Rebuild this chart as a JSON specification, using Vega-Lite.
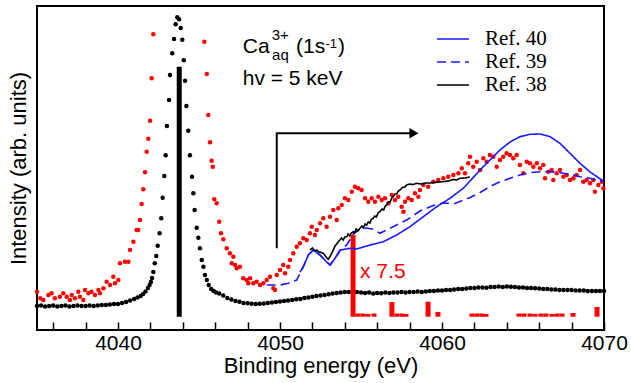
{
  "$schema": "https://vega.github.io/schema/vega-lite/v6.json",
  "width": 567,
  "height": 324,
  "autosize": "none",
  "padding": {"left": 37, "top": 6, "right": 27, "bottom": 53},
  "config": {
    "view": {"stroke": "black", "strokeWidth": 2},
    "font": "Liberation Sans",
    "axis": {"tickColor": "black", "tickOpacity": 1, "domainColor": "black", "titleColor": "black", "labelColor": "black"}
  },
  "datasets": {
    "bd": [
      {"e":4035,"i":24},{"e":4035.25,"i":24.5},{"e":4035.5,"i":23.5},{"e":4035.75,"i":24},{"e":4036,"i":24.5},{"e":4036.25,"i":23.5},{"e":4036.5,"i":24},{"e":4036.75,"i":24.5},{"e":4037,"i":23.5},{"e":4037.25,"i":24},{"e":4037.5,"i":24.5},{"e":4037.75,"i":24},{"e":4038,"i":24},{"e":4038.25,"i":24.5},{"e":4038.5,"i":24},{"e":4038.75,"i":24.5},{"e":4039,"i":25},{"e":4039.25,"i":25},{"e":4039.5,"i":25.5},{"e":4039.75,"i":26},{"e":4040,"i":26},{"e":4040.25,"i":27},{"e":4040.5,"i":28},{"e":4040.75,"i":29.5},{"e":4041,"i":31},{"e":4041.2,"i":32.5},{"e":4041.4,"i":34},{"e":4041.55,"i":36},{"e":4041.7,"i":38.5},{"e":4041.85,"i":42},{"e":4041.95,"i":45},{"e":4042.03,"i":48},{"e":4042.1,"i":52},{"e":4042.18,"i":58},{"e":4042.27,"i":66.7},{"e":4042.36,"i":74},{"e":4042.45,"i":84.3},{"e":4042.57,"i":96.7},{"e":4042.67,"i":111.7},{"e":4042.76,"i":132.3},{"e":4042.86,"i":154},{"e":4042.94,"i":174.7},{"e":4043.02,"i":204},{"e":4043.15,"i":230},{"e":4043.21,"i":255},{"e":4043.35,"i":276.7},{"e":4043.46,"i":291},{"e":4043.56,"i":305.7},{"e":4043.66,"i":312.7},{"e":4043.77,"i":310.7},{"e":4043.87,"i":302},{"e":4043.97,"i":290.3},{"e":4044.06,"i":269.7},{"e":4044.14,"i":249.3},{"e":4044.22,"i":224},{"e":4044.34,"i":199.3},{"e":4044.44,"i":174.7},{"e":4044.57,"i":153.3},{"e":4044.65,"i":136.7},{"e":4044.73,"i":120},{"e":4044.86,"i":102.3},{"e":4044.96,"i":92.3},{"e":4045.06,"i":81.7},{"e":4045.17,"i":70},{"e":4045.27,"i":63.3},{"e":4045.37,"i":55},{"e":4045.48,"i":50},{"e":4045.6,"i":45},{"e":4045.75,"i":41},{"e":4045.9,"i":39},{"e":4046.05,"i":37.5},{"e":4046.25,"i":36.5},{"e":4046.5,"i":34.5},{"e":4046.75,"i":32},{"e":4047,"i":30.5},{"e":4047.25,"i":29},{"e":4047.5,"i":28.3},{"e":4047.75,"i":27},{"e":4048,"i":26.7},{"e":4048.25,"i":26.3},{"e":4048.5,"i":26},{"e":4048.75,"i":26.3},{"e":4049,"i":26.5},{"e":4049.25,"i":27},{"e":4049.5,"i":27.5},{"e":4049.75,"i":28},{"e":4050,"i":28.5},{"e":4050.25,"i":29},{"e":4050.5,"i":29.5},{"e":4050.75,"i":30},{"e":4051,"i":30.7},{"e":4051.25,"i":31},{"e":4051.5,"i":32},{"e":4051.75,"i":32.5},{"e":4052,"i":33.3},{"e":4052.25,"i":34},{"e":4052.5,"i":34.5},{"e":4052.75,"i":35},{"e":4053,"i":35.7},{"e":4053.25,"i":36.5},{"e":4053.5,"i":37},{"e":4053.75,"i":37.5},{"e":4054,"i":38},{"e":4054.25,"i":38},{"e":4054.5,"i":38.5},{"e":4054.75,"i":38},{"e":4055,"i":37.5},{"e":4055.25,"i":37},{"e":4055.5,"i":37.5},{"e":4055.75,"i":36.5},{"e":4056,"i":37},{"e":4056.25,"i":36.7},{"e":4056.5,"i":37.5},{"e":4056.75,"i":37},{"e":4057,"i":37.5},{"e":4057.25,"i":37.5},{"e":4057.5,"i":38},{"e":4057.75,"i":37.5},{"e":4058,"i":38},{"e":4058.25,"i":38},{"e":4058.5,"i":38.5},{"e":4058.75,"i":38},{"e":4059,"i":38.5},{"e":4059.25,"i":39},{"e":4059.5,"i":39},{"e":4059.75,"i":39.5},{"e":4060,"i":39.5},{"e":4060.25,"i":40},{"e":4060.5,"i":40},{"e":4060.75,"i":40.5},{"e":4061,"i":41},{"e":4061.25,"i":41},{"e":4061.5,"i":41.5},{"e":4061.75,"i":42},{"e":4062,"i":42},{"e":4062.25,"i":42.5},{"e":4062.5,"i":42.5},{"e":4062.75,"i":42.3},{"e":4063,"i":43},{"e":4063.25,"i":43},{"e":4063.5,"i":43.5},{"e":4063.75,"i":43},{"e":4064,"i":43.5},{"e":4064.25,"i":43.3},{"e":4064.5,"i":43},{"e":4064.75,"i":42.5},{"e":4065,"i":42.5},{"e":4065.25,"i":42},{"e":4065.5,"i":42},{"e":4065.75,"i":41.7},{"e":4066,"i":41.5},{"e":4066.25,"i":41},{"e":4066.5,"i":41},{"e":4066.75,"i":40.5},{"e":4067,"i":40.5},{"e":4067.25,"i":40},{"e":4067.5,"i":40},{"e":4067.75,"i":40},{"e":4068,"i":40},{"e":4068.25,"i":39.5},{"e":4068.5,"i":39.5},{"e":4068.75,"i":39.5},{"e":4069,"i":39},{"e":4069.25,"i":39},{"e":4069.5,"i":39},{"e":4069.75,"i":39},{"e":4070,"i":39}
    ],
    "rd": [
      {"e":4035.0,"i":38.3},{"e":4035.2,"i":31.7},{"e":4035.39,"i":30},{"e":4035.7,"i":35},{"e":4035.9,"i":36.7},{"e":4036.1,"i":31.7},{"e":4036.41,"i":33.3},{"e":4036.62,"i":36.7},{"e":4036.83,"i":33.3},{"e":4037.03,"i":30},{"e":4037.14,"i":35},{"e":4037.34,"i":31.7},{"e":4037.55,"i":38.3},{"e":4037.65,"i":33.3},{"e":4037.86,"i":30},{"e":4037.96,"i":40},{"e":4038.17,"i":36.7},{"e":4038.37,"i":38.3},{"e":4038.58,"i":35},{"e":4038.79,"i":40},{"e":4038.89,"i":36.7},{"e":4039.1,"i":41.7},{"e":4039.3,"i":48.3},{"e":4039.51,"i":45},{"e":4039.71,"i":53.3},{"e":4039.82,"i":46.7},{"e":4040.02,"i":50},{"e":4040.12,"i":66.7},{"e":4040.43,"i":68.3},{"e":4040.64,"i":68.3},{"e":4040.74,"i":80},{"e":4040.95,"i":88.3},{"e":4041.15,"i":100},{"e":4041.25,"i":100},{"e":4041.36,"i":110},{"e":4041.46,"i":126},{"e":4041.56,"i":140.7},{"e":4041.67,"i":157.7},{"e":4041.77,"i":178.3},{"e":4041.87,"i":191.3},{"e":4041.98,"i":209.3},{"e":4042.08,"i":251.7},{"e":4042.18,"i":295.7},
      {"e":4045.33,"i":288.3},{"e":4045.48,"i":256},{"e":4045.57,"i":215},{"e":4045.68,"i":187.7},{"e":4045.78,"i":169.3},{"e":4045.85,"i":163.3},{"e":4045.94,"i":130.7},{"e":4046.09,"i":126.7},{"e":4046.25,"i":108.3},{"e":4046.36,"i":96.7},{"e":4046.5,"i":90.7},{"e":4046.71,"i":81.7},{"e":4046.91,"i":76.7},{"e":4047.02,"i":66.7},{"e":4047.12,"i":73.3},{"e":4047.22,"i":65},{"e":4047.33,"i":61.7},{"e":4047.53,"i":63.3},{"e":4047.73,"i":51.7},{"e":4047.94,"i":50},{"e":4048.04,"i":46.7},{"e":4048.15,"i":51.7},{"e":4048.35,"i":46.7},{"e":4048.56,"i":48.3},{"e":4048.77,"i":45},{"e":4048.97,"i":46.7},{"e":4049.18,"i":50},{"e":4049.38,"i":53.3},{"e":4049.59,"i":41.7},{"e":4049.69,"i":40},{"e":4049.8,"i":55},{"e":4050.0,"i":60},{"e":4050.2,"i":65},{"e":4050.31,"i":56.7},{"e":4050.51,"i":63.3},{"e":4050.62,"i":70},{"e":4050.82,"i":76.7},{"e":4051.03,"i":83.3},{"e":4051.23,"i":86.7},{"e":4051.44,"i":91.7},{"e":4051.65,"i":90},{"e":4051.85,"i":96.7},{"e":4051.96,"i":103.3},{"e":4052.16,"i":95},{"e":4052.27,"i":100},{"e":4052.47,"i":106.7},{"e":4052.67,"i":111.7},{"e":4052.88,"i":103.3},{"e":4053.09,"i":113.3},{"e":4053.29,"i":120},{"e":4053.5,"i":110},{"e":4053.6,"i":121.7},{"e":4053.81,"i":125},{"e":4054.01,"i":131.7},{"e":4054.22,"i":130},{"e":4054.43,"i":138.3},{"e":4054.63,"i":143.3},{"e":4054.83,"i":141.7},{"e":4055.04,"i":140},{"e":4055.25,"i":131.7},{"e":4055.45,"i":128.3},{"e":4055.66,"i":131.7},{"e":4055.86,"i":128.3},{"e":4056.07,"i":133.3},{"e":4056.28,"i":130},{"e":4056.48,"i":131.7},{"e":4056.69,"i":126.7},{"e":4056.9,"i":135},{"e":4057.1,"i":130},{"e":4057.3,"i":133.3},{"e":4057.51,"i":123.3},{"e":4057.62,"i":118.3},{"e":4057.72,"i":128.3},{"e":4057.92,"i":131.7},{"e":4058.13,"i":130},{"e":4058.33,"i":136.7},{"e":4058.54,"i":133.3},{"e":4058.64,"i":140},{"e":4058.85,"i":145},{"e":4059.15,"i":143.3},{"e":4059.46,"i":148.3},{"e":4059.77,"i":150},{"e":4060.08,"i":151.7},{"e":4060.39,"i":153.3},{"e":4060.7,"i":155},{"e":4061.01,"i":156.7},{"e":4061.22,"i":161.7},{"e":4061.42,"i":156.7},{"e":4061.62,"i":166.7},{"e":4061.73,"i":173.3},{"e":4061.93,"i":163.3},{"e":4062.14,"i":168.3},{"e":4062.35,"i":160},{"e":4062.55,"i":171.7},{"e":4062.76,"i":168.3},{"e":4062.96,"i":175},{"e":4063.17,"i":173.3},{"e":4063.38,"i":163.3},{"e":4063.58,"i":170},{"e":4063.78,"i":173.3},{"e":4063.99,"i":176.7},{"e":4064.2,"i":175},{"e":4064.4,"i":171.7},{"e":4064.61,"i":175},{"e":4064.81,"i":165},{"e":4065.02,"i":156.7},{"e":4065.23,"i":168.3},{"e":4065.43,"i":166.7},{"e":4065.64,"i":163.3},{"e":4065.85,"i":166.7},{"e":4066.05,"i":161.7},{"e":4066.25,"i":165},{"e":4066.36,"i":151.7},{"e":4066.56,"i":158.3},{"e":4066.77,"i":160},{"e":4066.87,"i":150},{"e":4067.08,"i":156.7},{"e":4067.28,"i":160},{"e":4067.49,"i":153.3},{"e":4067.7,"i":155},{"e":4067.9,"i":150},{"e":4068.11,"i":151.7},{"e":4068.31,"i":155},{"e":4068.52,"i":160},{"e":4068.72,"i":148.3},{"e":4068.93,"i":150},{"e":4069.14,"i":146.7},{"e":4069.34,"i":150},{"e":4069.44,"i":138.3},{"e":4069.65,"i":145},{"e":4069.86,"i":148.3},{"e":4069.96,"i":141.7}
    ],
    "bs": [{"e":4043.78,"i":263.3}],
    "rs": [
      {"e":4054.51,"i":95},{"e":4054.81,"i":16.5},{"e":4055.12,"i":16.5},{"e":4055.43,"i":16},{"e":4055.8,"i":16.5},{"e":4056.91,"i":28},{"e":4057.22,"i":16.5},{"e":4057.53,"i":16.5},{"e":4057.78,"i":16},{"e":4059.14,"i":28.3},{"e":4059.75,"i":18},{"e":4061.85,"i":16.5},{"e":4062.16,"i":16.5},{"e":4062.47,"i":16.5},{"e":4062.72,"i":16},{"e":4064.75,"i":16.5},{"e":4065.06,"i":16.5},{"e":4065.43,"i":16.5},{"e":4065.74,"i":16},{"e":4066.11,"i":16.5},{"e":4066.42,"i":16.5},{"e":4066.79,"i":16},{"e":4067.1,"i":16.5},{"e":4067.41,"i":16.5},{"e":4068.09,"i":17},{"e":4069.57,"i":23}
    ],
    "refs": [
      {"ref":"Ref. 40","e":4051.23,"i":58},{"ref":"Ref. 40","e":4051.44,"i":63.3},{"ref":"Ref. 40","e":4051.75,"i":75},{"ref":"Ref. 40","e":4052.06,"i":80},{"ref":"Ref. 40","e":4052.47,"i":75},{"ref":"Ref. 40","e":4052.88,"i":68},{"ref":"Ref. 40","e":4053.09,"i":65},{"ref":"Ref. 40","e":4053.4,"i":71.7},{"ref":"Ref. 40","e":4053.7,"i":80},{"ref":"Ref. 40","e":4054.32,"i":81.7},{"ref":"Ref. 40","e":4054.73,"i":81},{"ref":"Ref. 40","e":4055.56,"i":85},{"ref":"Ref. 40","e":4056.38,"i":88.3},{"ref":"Ref. 40","e":4057.2,"i":95},{"ref":"Ref. 40","e":4058.02,"i":103.3},{"ref":"Ref. 40","e":4058.85,"i":113.3},{"ref":"Ref. 40","e":4059.67,"i":123.3},{"ref":"Ref. 40","e":4060.49,"i":131.7},{"ref":"Ref. 40","e":4061.31,"i":141.7},{"ref":"Ref. 40","e":4061.73,"i":149},{"ref":"Ref. 40","e":4062.35,"i":160},{"ref":"Ref. 40","e":4062.96,"i":170},{"ref":"Ref. 40","e":4063.58,"i":180},{"ref":"Ref. 40","e":4064.2,"i":188},{"ref":"Ref. 40","e":4064.81,"i":193.3},{"ref":"Ref. 40","e":4065.43,"i":195.7},{"ref":"Ref. 40","e":4066.05,"i":196},{"ref":"Ref. 40","e":4066.67,"i":193.3},{"ref":"Ref. 40","e":4067.28,"i":186.7},{"ref":"Ref. 40","e":4067.9,"i":176.7},{"ref":"Ref. 40","e":4068.52,"i":166.7},{"ref":"Ref. 40","e":4069.14,"i":158},{"ref":"Ref. 40","e":4069.96,"i":149},
      {"ref":"Ref. 39","e":4049.18,"i":45},{"ref":"Ref. 39","e":4050.0,"i":45},{"ref":"Ref. 39","e":4050.51,"i":46.7},{"ref":"Ref. 39","e":4051.03,"i":50},{"ref":"Ref. 39","e":4051.44,"i":63.3},{"ref":"Ref. 39","e":4051.75,"i":75},{"ref":"Ref. 39","e":4052.06,"i":80},{"ref":"Ref. 39","e":4052.47,"i":75},{"ref":"Ref. 39","e":4052.88,"i":68.3},{"ref":"Ref. 39","e":4053.09,"i":65},{"ref":"Ref. 39","e":4053.4,"i":71.7},{"ref":"Ref. 39","e":4053.81,"i":81.7},{"ref":"Ref. 39","e":4054.12,"i":85},{"ref":"Ref. 39","e":4054.52,"i":96},{"ref":"Ref. 39","e":4054.94,"i":101},{"ref":"Ref. 39","e":4055.35,"i":102},{"ref":"Ref. 39","e":4055.76,"i":100.7},{"ref":"Ref. 39","e":4056.17,"i":96.7},{"ref":"Ref. 39","e":4056.99,"i":103.3},{"ref":"Ref. 39","e":4057.82,"i":110},{"ref":"Ref. 39","e":4058.64,"i":119},{"ref":"Ref. 39","e":4059.46,"i":124.5},{"ref":"Ref. 39","e":4060.08,"i":127},{"ref":"Ref. 39","e":4060.8,"i":126.5},{"ref":"Ref. 39","e":4061.73,"i":132.5},{"ref":"Ref. 39","e":4062.35,"i":137.5},{"ref":"Ref. 39","e":4062.96,"i":143.3},{"ref":"Ref. 39","e":4063.58,"i":148.3},{"ref":"Ref. 39","e":4064.2,"i":151.7},{"ref":"Ref. 39","e":4064.81,"i":155},{"ref":"Ref. 39","e":4065.43,"i":157.3},{"ref":"Ref. 39","e":4066.05,"i":158.3},{"ref":"Ref. 39","e":4066.67,"i":158.3},{"ref":"Ref. 39","e":4067.28,"i":157.3},{"ref":"Ref. 39","e":4067.9,"i":155.7},{"ref":"Ref. 39","e":4068.52,"i":153.3},{"ref":"Ref. 39","e":4069.14,"i":151.7},{"ref":"Ref. 39","e":4069.96,"i":148.3},
      {"ref":"Ref. 38","e":4051.85,"i":80},{"ref":"Ref. 38","e":4052.0,"i":82},{"ref":"Ref. 38","e":4052.15,"i":79},{"ref":"Ref. 38","e":4052.27,"i":80},{"ref":"Ref. 38","e":4052.4,"i":78},{"ref":"Ref. 38","e":4052.55,"i":77.5},{"ref":"Ref. 38","e":4052.67,"i":76.7},{"ref":"Ref. 38","e":4052.8,"i":74},{"ref":"Ref. 38","e":4052.9,"i":72},{"ref":"Ref. 38","e":4052.98,"i":70.7},{"ref":"Ref. 38","e":4053.1,"i":74},{"ref":"Ref. 38","e":4053.2,"i":77},{"ref":"Ref. 38","e":4053.29,"i":80},{"ref":"Ref. 38","e":4053.4,"i":84},{"ref":"Ref. 38","e":4053.5,"i":86},{"ref":"Ref. 38","e":4053.6,"i":88.5},{"ref":"Ref. 38","e":4053.7,"i":90},{"ref":"Ref. 38","e":4053.8,"i":92},{"ref":"Ref. 38","e":4053.9,"i":90},{"ref":"Ref. 38","e":4054.0,"i":93},{"ref":"Ref. 38","e":4054.12,"i":93.3},{"ref":"Ref. 38","e":4054.2,"i":96},{"ref":"Ref. 38","e":4054.3,"i":94},{"ref":"Ref. 38","e":4054.4,"i":97},{"ref":"Ref. 38","e":4054.52,"i":98.3},{"ref":"Ref. 38","e":4054.6,"i":97},{"ref":"Ref. 38","e":4054.7,"i":101},{"ref":"Ref. 38","e":4054.8,"i":99},{"ref":"Ref. 38","e":4054.94,"i":101.7},{"ref":"Ref. 38","e":4055.05,"i":104},{"ref":"Ref. 38","e":4055.15,"i":102},{"ref":"Ref. 38","e":4055.25,"i":106},{"ref":"Ref. 38","e":4055.35,"i":105},{"ref":"Ref. 38","e":4055.45,"i":108},{"ref":"Ref. 38","e":4055.55,"i":107},{"ref":"Ref. 38","e":4055.65,"i":111},{"ref":"Ref. 38","e":4055.76,"i":111.7},{"ref":"Ref. 38","e":4055.85,"i":114},{"ref":"Ref. 38","e":4055.95,"i":113},{"ref":"Ref. 38","e":4056.05,"i":117},{"ref":"Ref. 38","e":4056.17,"i":118.3},{"ref":"Ref. 38","e":4056.3,"i":121},{"ref":"Ref. 38","e":4056.4,"i":120},{"ref":"Ref. 38","e":4056.5,"i":124},{"ref":"Ref. 38","e":4056.59,"i":125},{"ref":"Ref. 38","e":4056.7,"i":128},{"ref":"Ref. 38","e":4056.8,"i":128},{"ref":"Ref. 38","e":4056.9,"i":132},{"ref":"Ref. 38","e":4056.99,"i":133.3},{"ref":"Ref. 38","e":4057.1,"i":136},{"ref":"Ref. 38","e":4057.2,"i":136},{"ref":"Ref. 38","e":4057.3,"i":139},{"ref":"Ref. 38","e":4057.41,"i":140},{"ref":"Ref. 38","e":4057.55,"i":142.5},{"ref":"Ref. 38","e":4057.7,"i":143},{"ref":"Ref. 38","e":4057.82,"i":145},{"ref":"Ref. 38","e":4058.0,"i":146},{"ref":"Ref. 38","e":4058.2,"i":145.5},{"ref":"Ref. 38","e":4058.44,"i":146.7},{"ref":"Ref. 38","e":4058.7,"i":146},{"ref":"Ref. 38","e":4059.0,"i":147},{"ref":"Ref. 38","e":4059.26,"i":147},{"ref":"Ref. 38","e":4059.5,"i":147.5},{"ref":"Ref. 38","e":4059.8,"i":148},{"ref":"Ref. 38","e":4060.08,"i":148.3},{"ref":"Ref. 38","e":4060.4,"i":149},{"ref":"Ref. 38","e":4060.7,"i":150.5},{"ref":"Ref. 38","e":4060.9,"i":150},{"ref":"Ref. 38","e":4061.11,"i":151.7},{"ref":"Ref. 38","e":4061.4,"i":152},{"ref":"Ref. 38","e":4061.73,"i":153}
    ],
    "arrow": [{"e":4049.8,"i":81.7,"o":1},{"e":4049.8,"i":196.7,"o":2},{"e":4058.3,"i":196.7,"o":3}],
    "one": [{}]
  },
  "encoding": {
    "x": {"type": "quantitative",
      "scale": {"domain": [4035, 4070], "nice": false, "zero": false},
      "axis": {"orient": "bottom", "values": [4036,4038,4040,4042,4044,4046,4048,4050,4052,4054,4056,4058,4060,4062,4064,4066,4068,4070],
        "format": "d", "labelExpr": "datum.value % 10 === 0 ? datum.label : ''",
        "ticks": true, "tickSize": -8, "tickWidth": 1.5, "tickColor": "black", "tickOpacity": 1,
        "domain": false, "grid": false,
        "labelFont": "Liberation Sans", "labelFontSize": 21, "labelPadding": 10,
        "labelFlush": false, "labelOverlap": false,
        "title": "Binding energy (eV)", "titleFont": "Liberation Sans", "titleFontSize": 22, "titleFontWeight": "normal", "titlePadding": 2}},
    "y": {"type": "quantitative",
      "scale": {"domain": [0, 324], "nice": false, "zero": false},
      "axis": {"labels": false, "ticks": false, "domain": false, "grid": false,
        "title": "Intensity (arb. units)", "titleFont": "Liberation Sans", "titleFontSize": 22, "titleFontWeight": "normal", "titlePadding": 7}}
  },
  "layer": [
    {
      "data": {"name": "bd"},
      "mark": {"type": "point", "filled": true, "color": "black", "size": 20, "opacity": 1, "strokeWidth": 0},
      "encoding": {"x": {"field": "e"}, "y": {"field": "i"}}
    },
    {
      "data": {"name": "rd"},
      "mark": {"type": "point", "filled": true, "color": "#ff0000", "size": 20, "opacity": 1, "strokeWidth": 0},
      "encoding": {"x": {"field": "e"}, "y": {"field": "i"}}
    },
    {
      "data": {"name": "bs"},
      "mark": {"type": "rule", "color": "black", "strokeWidth": 5},
      "encoding": {"x": {"field": "e"}, "y": {"field": "i"}, "y2": {"datum": 13.3}}
    },
    {
      "data": {"name": "rs"},
      "mark": {"type": "rule", "color": "#ff0000", "strokeWidth": 5},
      "encoding": {"x": {"field": "e"}, "y": {"field": "i"}, "y2": {"datum": 13.3}}
    },
    {
      "data": {"name": "refs"},
      "mark": {"type": "line", "strokeWidth": 1.6},
      "encoding": {
        "x": {"field": "e"}, "y": {"field": "i"},
        "color": {"field": "ref", "type": "nominal",
          "scale": {"domain": ["Ref. 40", "Ref. 39", "Ref. 38"], "range": ["#1a1aff", "#1a1aff", "black"]},
          "legend": {"orient": "none", "legendX": 405, "legendY": 22, "title": null,
            "symbolType": "M-1.6,0H1.6", "symbolSize": 400, "symbolStrokeWidth": 1.5,
            "labelFont": "Liberation Serif", "labelFontSize": 21, "labelColor": "black", "labelOffset": 21,
            "rowPadding": 2, "padding": 0}},
        "strokeDash": {"field": "ref", "type": "nominal",
          "scale": {"domain": ["Ref. 40", "Ref. 39", "Ref. 38"], "range": [[1, 0], [9, 5], [1, 0]]}}
      }
    },
    {
      "data": {"name": "arrow"},
      "mark": {"type": "line", "color": "black", "strokeWidth": 2},
      "encoding": {"x": {"field": "e"}, "y": {"field": "i"}, "order": {"field": "o"}}
    },
    {
      "data": {"name": "one"},
      "mark": {"type": "point", "shape": "triangle-right", "filled": true, "color": "black", "size": 110, "opacity": 1},
      "encoding": {"x": {"datum": 4058.27}, "y": {"datum": 196.7}}
    },
    {
      "data": {"name": "one"},
      "mark": {"type": "text", "text": "Ca", "font": "Liberation Sans", "fontSize": 21, "align": "left", "baseline": "alphabetic", "color": "black"},
      "encoding": {"x": {"datum": 4047.7}, "y": {"datum": 276.7}}
    },
    {
      "data": {"name": "one"},
      "mark": {"type": "text", "text": "3+", "font": "Liberation Sans", "fontSize": 15, "align": "left", "baseline": "alphabetic", "color": "black"},
      "encoding": {"x": {"datum": 4049.49}, "y": {"datum": 290.5}}
    },
    {
      "data": {"name": "one"},
      "mark": {"type": "text", "text": "aq", "font": "Liberation Sans", "fontSize": 15, "align": "left", "baseline": "alphabetic", "color": "black"},
      "encoding": {"x": {"datum": 4049.51}, "y": {"datum": 270}}
    },
    {
      "data": {"name": "one"},
      "mark": {"type": "text", "text": "(1s", "font": "Liberation Sans", "fontSize": 21, "align": "left", "baseline": "alphabetic", "color": "black"},
      "encoding": {"x": {"datum": 4050.99}, "y": {"datum": 276.7}}
    },
    {
      "data": {"name": "one"},
      "mark": {"type": "text", "text": "-1", "font": "Liberation Sans", "fontSize": 13, "align": "left", "baseline": "alphabetic", "color": "black"},
      "encoding": {"x": {"datum": 4052.81}, "y": {"datum": 282}}
    },
    {
      "data": {"name": "one"},
      "mark": {"type": "text", "text": ")", "font": "Liberation Sans", "fontSize": 21, "align": "left", "baseline": "alphabetic", "color": "black"},
      "encoding": {"x": {"datum": 4053.58}, "y": {"datum": 276.7}}
    },
    {
      "data": {"name": "one"},
      "mark": {"type": "text", "text": "hv = 5 keV", "font": "Liberation Sans", "fontSize": 21, "align": "left", "baseline": "alphabetic", "color": "black"},
      "encoding": {"x": {"datum": 4047.7}, "y": {"datum": 245}}
    },
    {
      "data": {"name": "one"},
      "mark": {"type": "text", "text": "x 7.5", "font": "Liberation Sans", "fontSize": 21, "align": "left", "baseline": "alphabetic", "color": "#ff0000"},
      "encoding": {"x": {"datum": 4054.94}, "y": {"datum": 51.7}}
    }
  ]
}
